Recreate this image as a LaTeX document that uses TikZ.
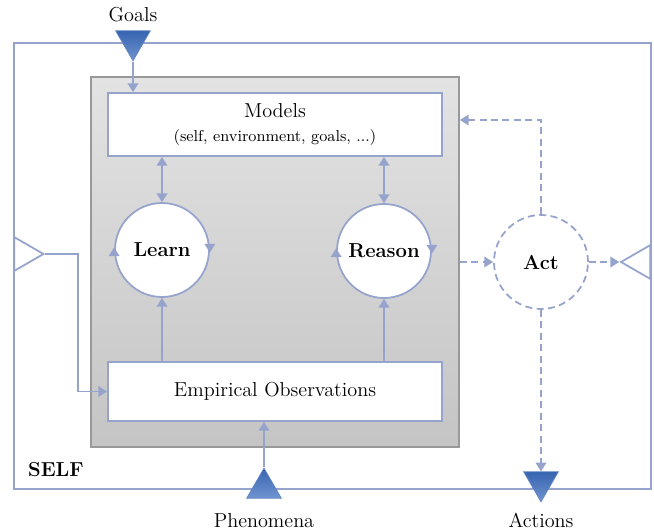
\documentclass[tikz,border=0pt]{standalone}
\usepackage{xcolor}
\usepackage{tikz}
\usetikzlibrary{arrows.meta,shapes.geometric}

\definecolor{linkblue}{RGB}{150,163,204}
\definecolor{srcdark}{RGB}{55,100,176}
\definecolor{srclight}{RGB}{112,148,208}

\begin{document}
\begin{tikzpicture}[
    x=0.02cm, y=-0.02cm,
    font=\fontsize{11.5}{13}\selectfont,
    frame/.style={draw=linkblue, line width=1pt, inner sep=0pt},
    core/.style={draw=gray!80, line width=1pt, top color=gray!22, bottom color=gray!46, inner sep=0pt},
    store/.style={draw=linkblue, line width=1pt, fill=white, inner sep=0pt, align=center},
    proc/.style={circle, draw=linkblue, line width=1pt, fill=white, inner sep=0pt, minimum size={94*0.02cm}, font=\fontsize{11.5}{13}\selectfont\bfseries},
    actproc/.style={proc, dash pattern=on 4pt off 2.5pt},
    port/.style={regular polygon, regular polygon sides=3, draw=linkblue, line width=1pt, fill=white, inner sep=0pt, minimum size={39*0.02cm}},
    source/.style={regular polygon, regular polygon sides=3, draw=srcdark!80, line width=0.4pt, top color=srcdark, bottom color=srclight, inner sep=0pt, minimum size={40*0.02cm}},
    link/.style={draw=linkblue, line width=1pt, -{Triangle[width=6pt,length=5pt]}},
    dlink/.style={link, dash pattern=on 4pt off 2.5pt},
    tip/.style={draw=linkblue, line width=1pt, -{Triangle[width=6pt,length=5pt]}}
]
\useasboundingbox (0,0) rectangle (654,531);

% outer frame and core
\node[frame, minimum width={637*0.02cm}, minimum height={446*0.02cm}] (self) at (332.5,266) {};
\node[core, minimum width={368*0.02cm}, minimum height={370*0.02cm}] (core) at (275,262) {};

\node[store, minimum width={334*0.02cm}, minimum height={63*0.02cm}] (models) at (275,124.5)
    {Models\\[1pt]{\fontsize{9}{11}\selectfont (self, environment, goals, ...)}};
\node[store, minimum width={334*0.02cm}, minimum height={59*0.02cm}] (empirical) at (275,391.5)
    {Empirical Observations};

\node[proc] (learn) at (162,250) {Learn};
\node[proc] (reason) at (384,251) {Reason};
\node[actproc] (act) at (541,262) {Act};

% ports on the frame
\node[port, shape border rotate=-90] (lport) at (24,254) {};
\node[port, shape border rotate=90] (rport) at (640.5,262) {};

\node[source, shape border rotate=180] (goals) at (133,40.8) {};
\node[source] (phen) at (264,488.2) {};
\node[source, shape border rotate=180] (actions) at (541,481.8) {};

\node (goalslbl) at (133,15) {Goals};
\node (phenlbl) at (264,521) {Phenomena};
\node (actionslbl) at (541,520) {Actions};
\node[font=\fontsize{11.5}{13}\selectfont\bfseries, anchor=west] (selflbl) at (22,470) {SELF};

% connectors
\draw[link] (goals.south) -- (goals.south |- models.north);
\draw[link, {Triangle[width=6pt,length=5pt]}-{Triangle[width=6pt,length=5pt]}] (models.south -| learn) -- (learn.north);
\draw[link, {Triangle[width=6pt,length=5pt]}-{Triangle[width=6pt,length=5pt]}] (models.south -| reason) -- (reason.north);
\draw[link] (empirical.north -| learn) -- (learn.south);
\draw[link] (empirical.north -| reason) -- (reason.south);
\draw[link] (phen.north) -- (empirical.south -| phen.north);
\draw[link] (lport.east) -- ++(33,0) |- (empirical.west);

% cycle marks on the circles
\draw[tip] ([yshift=-0.5pt]learn.west) -- ([yshift=1.5pt]learn.west);
\draw[tip] ([yshift=0.5pt]learn.east) -- ([yshift=-1.5pt]learn.east);
\draw[tip] ([yshift=-0.5pt]reason.west) -- ([yshift=1.5pt]reason.west);
\draw[tip] ([yshift=0.5pt]reason.east) -- ([yshift=-1.5pt]reason.east);

\draw[dlink] (core.east |- act) -- (act.west);
\draw[dlink] (act.north) |- (core.east |- 0,120);
\draw[dlink] (act.east) -- (rport.west);
\draw[dlink] (act.south) -- (actions.north);
\end{tikzpicture}
\end{document}
